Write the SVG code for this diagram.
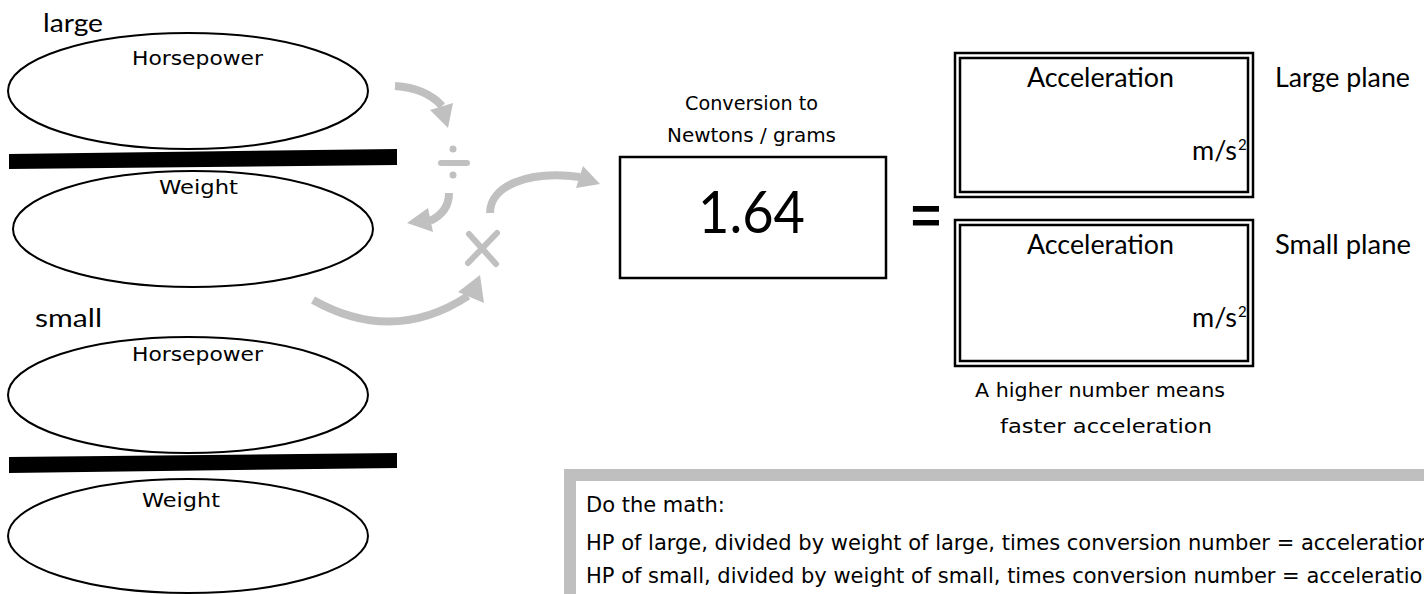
<svg xmlns="http://www.w3.org/2000/svg" width="1424" height="594" viewBox="0 0 1424 594">
<style>
.ell{fill:#fff;stroke:#000;stroke-width:2}
.bar{fill:#000}
.comic{font-family:"DejaVu Sans",sans-serif;fill:#000}
.cal{font-family:Lato,"Open Sans",sans-serif;fill:#000}
.arc{fill:none;stroke:#c0c0c0;stroke-width:8}
.head{fill:#c0c0c0}
.op{stroke:#c0c0c0;stroke-width:6;stroke-linecap:round;fill:none}
.box{fill:#fff;stroke:#000;stroke-width:2.5}
</style>
<rect width="1424" height="594" fill="#fff"/>

<g id="large-group">
  <text class="cal" x="43" y="32" font-size="25" textLength="60" lengthAdjust="spacingAndGlyphs">large</text>
  <g id="large-hp">
    <ellipse class="ell" cx="188" cy="91" rx="180" ry="58"/>
    <text class="comic" x="132" y="65" font-size="19" textLength="131" lengthAdjust="spacingAndGlyphs">Horsepower</text>
  </g>
  <polygon class="bar" points="9,154 397,149 397,165 9,169"/>
  <g id="large-weight">
    <ellipse class="ell" cx="193" cy="229" rx="180" ry="58"/>
    <text class="comic" x="159" y="194" font-size="19" textLength="79" lengthAdjust="spacingAndGlyphs">Weight</text>
  </g>
</g>

<g id="small-group">
  <text class="cal" x="35" y="327" font-size="25" textLength="67" lengthAdjust="spacingAndGlyphs">small</text>
  <g id="small-hp">
    <ellipse class="ell" cx="188" cy="395" rx="180" ry="58"/>
    <text class="comic" x="132" y="361" font-size="19" textLength="131" lengthAdjust="spacingAndGlyphs">Horsepower</text>
  </g>
  <polygon class="bar" points="9,457 397,453 397,468 9,473"/>
  <g id="small-weight">
    <ellipse class="ell" cx="188" cy="536" rx="180" ry="57"/>
    <text class="comic" x="142" y="507" font-size="19" textLength="78" lengthAdjust="spacingAndGlyphs">Weight</text>
  </g>
</g>

<g id="connectors">
  <path class="arc" d="M395,86 Q426,88 442,106"/>
  <polygon class="head" points="430,110 453,103 448,128"/>
  <path class="op" d="M441,163 L467,163" stroke-width="5"/>
  <circle cx="453" cy="149" r="3.5" fill="#c0c0c0"/>
  <circle cx="453" cy="175" r="3.5" fill="#c0c0c0"/>
  <path class="arc" d="M449,193 Q449,212 430,221"/>
  <polygon class="head" points="428,208 433,232 407,223"/>
  <path class="op" d="M469,234 L496,264 M497,233 L468,263"/>
  <path class="arc" d="M490,213 C490,186 528,170 580,177"/>
  <polygon class="head" points="583,166 576,188 600,184"/>
  <path class="arc" d="M313,300 Q393,345 468,296"/>
  <polygon class="head" points="458,292 484,303 480,275"/>
</g>

<g id="conversion">
  <text class="comic" x="685" y="110" font-size="20" textLength="133" lengthAdjust="spacingAndGlyphs">Conversion to</text>
  <text class="comic" x="667" y="142" font-size="20" textLength="169" lengthAdjust="spacingAndGlyphs">Newtons / grams</text>
  <rect class="box" x="620" y="157" width="266" height="121"/>
  <text class="cal" x="698" y="233" font-size="58" textLength="107" lengthAdjust="spacingAndGlyphs">1.64</text>
</g>

<text id="equals" x="926" y="233" font-family="'Liberation Sans',sans-serif" font-weight="bold" font-size="52" text-anchor="middle">=</text>

<g id="accel-large">
  <rect class="box" x="955" y="53" width="298" height="144"/>
  <rect fill="none" stroke="#000" stroke-width="2.5" x="960" y="58" width="288" height="134"/>
  <text class="cal" x="1027" y="87" font-size="27" textLength="147" lengthAdjust="spacingAndGlyphs">Acceleration</text>
  <text class="cal" x="1192" y="160" font-size="27" textLength="45" lengthAdjust="spacingAndGlyphs">m/s</text>
  <text class="cal" x="1238" y="150" font-size="15">2</text>
  <text class="cal" x="1275" y="87" font-size="27" textLength="135" lengthAdjust="spacingAndGlyphs">Large plane</text>
</g>

<g id="accel-small">
  <rect class="box" x="955" y="220" width="298" height="146"/>
  <rect fill="none" stroke="#000" stroke-width="2.5" x="960" y="225" width="288" height="136"/>
  <text class="cal" x="1027" y="254" font-size="27" textLength="147" lengthAdjust="spacingAndGlyphs">Acceleration</text>
  <text class="cal" x="1192" y="327" font-size="27" textLength="45" lengthAdjust="spacingAndGlyphs">m/s</text>
  <text class="cal" x="1238" y="317" font-size="15">2</text>
  <text class="cal" x="1275" y="254" font-size="27" textLength="136" lengthAdjust="spacingAndGlyphs">Small plane</text>
</g>

<g id="note">
  <text class="comic" x="975" y="397" font-size="20" textLength="250" lengthAdjust="spacingAndGlyphs">A higher number means</text>
  <text class="comic" x="1000" y="433" font-size="20" textLength="212" lengthAdjust="spacingAndGlyphs">faster acceleration</text>
</g>

<g id="math-box">
  <rect x="570" y="475" width="900" height="200" fill="none" stroke="#bfbfbf" stroke-width="12"/>
  <text class="comic" x="586" y="512" font-size="21">Do the math:</text>
  <text class="comic" x="586" y="550" font-size="21">HP of large, divided by weight of large, times conversion number = acceleration</text>
  <text class="comic" x="586" y="583" font-size="21">HP of small, divided by weight of small, times conversion number = acceleration</text>
</g>
</svg>
